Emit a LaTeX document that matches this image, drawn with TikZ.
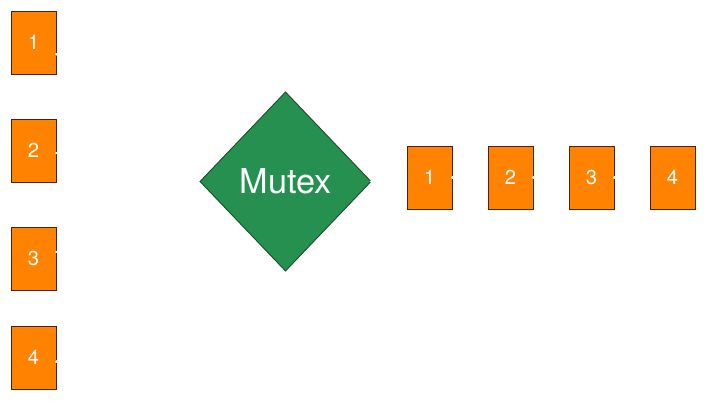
\documentclass[tikz,border=0pt]{standalone}
\usepackage{xcolor}
\usepackage{fontspec}
\usepackage{tikz}
\usetikzlibrary{shapes,arrows.meta,positioning,calc}
\newfontfamily\helv{TeX Gyre Heros}
\definecolor{boxorange}{HTML}{FF8300}
\definecolor{boxedge}{HTML}{4A2006}
\definecolor{mutexgreen}{HTML}{259050}
\definecolor{mutexedge}{HTML}{1E4A24}

\begin{document}
\begin{tikzpicture}[
    x=0.02cm, y=-0.02cm,
    slot/.style={draw=boxedge, fill=boxorange, line width=0.5pt, minimum width=0.9cm, minimum height=1.26cm, inner sep=0pt, outer sep=0pt, text=white, font=\helv\fontsize{11.5}{13}\selectfont},
    lock/.style={diamond, draw=mutexedge, fill=mutexgreen, line width=0.5pt, aspect=0.955, minimum width=3.42cm, minimum height=3.58cm, inner sep=0pt, outer sep=0pt, text=white, font=\helv\fontsize{19.5}{22}\selectfont},
    link/.style={draw=white, line width=1.2pt, line cap=round, shorten >=6pt},
]
\useasboundingbox (0,0) rectangle (706,400);

% Waiting threads (left column)
\node[slot] (w1) at (33.5, 42.5) {1};
\node[slot] (w2) at (33.5, 150.5) {2};
\node[slot] (w3) at (33.5, 258.5) {3};
\node[slot] (w4) at (33.5, 357.5) {4};

% Mutex
\node[lock] (mutex) at (285.5, 181.5) {Mutex};

% Queue (right row)
\node[slot] (q1) at (429.5, 177.5) {1};
\node[slot] (q2) at (510.5, 177.5) {2};
\node[slot] (q3) at (591.5, 177.5) {3};
\node[slot] (q4) at (672.5, 177.5) {4};

% Connectors (white)
\draw[link] ([yshift=-0.23cm] w1.east) -- (mutex);
\draw[link] ([yshift=-0.05cm] w2.east) -- (mutex);
\draw[link] ([yshift=0.13cm] w3.east) -- (mutex);
\draw[link] ([yshift=-0.09cm] w4.east) -- (mutex);
\draw[link] (mutex.east) -- (q1.west);
\draw[link] (q1.east) -- (q2.west);
\draw[link] (q2.east) -- (q3.west);
\draw[link] (q3.east) -- (q4.west);

\end{tikzpicture}
\end{document}
